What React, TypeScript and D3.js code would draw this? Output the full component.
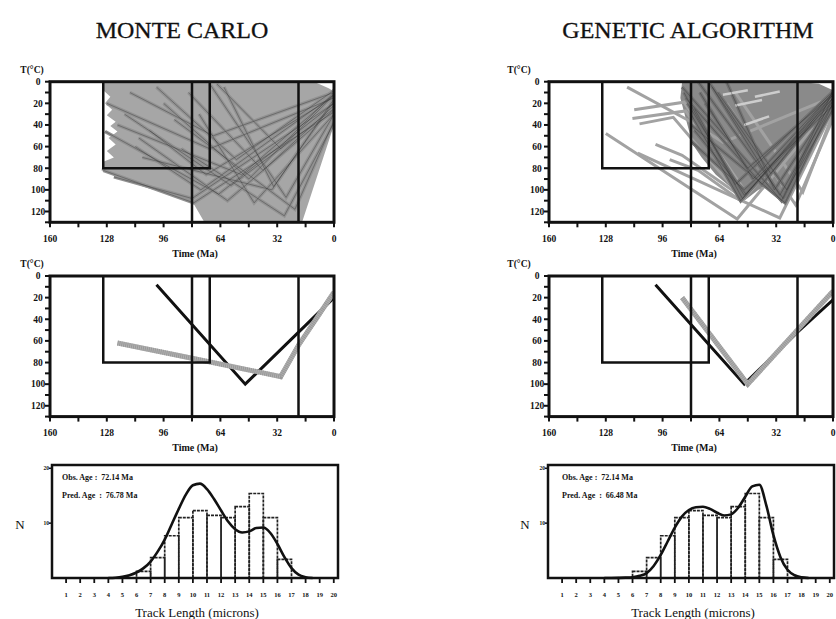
// Thermal history inversion figure: Monte Carlo vs genetic algorithm
// t-T path clouds, best-fit paths and track length histograms, drawn with d3 scales

import React from 'react';
import * as d3 from 'd3';

type Pt = [number, number]; // [time Ma, temperature °C]

const TIME_LABELS = [160, 128, 96, 64, 32, 0];
const TEMP_LABELS = [0, 20, 40, 60, 80, 100, 120];
const LENGTH_LABELS = [1, 2, 3, 4, 5, 6, 7, 8, 9, 10, 11, 12, 13, 14, 15, 16, 17, 18, 19, 20];
const COUNT_LABELS = [10, 20];

// constraint box and present-day window
const CONSTRAINT_BOX: Pt[] = [[130, 0], [130, 80], [70, 80], [70, 0]];
const WINDOW_TIMES = [80, 20];

// Monte Carlo: outline of the accepted path cloud
const MC_CLOUD: Pt[] = [
  [130, 0], [20, 0], [10, 1], [3, 6], [0, 9], [0, 40], [18, 130], [73, 130], [79, 113],
  [109, 94], [131, 82], [130, 74], [124, 70], [128, 64], [123, 58], [127, 52], [122, 46],
  [126, 41], [123, 37], [128, 31], [125, 26], [129, 20], [126, 14], [130, 8],
];

const MC_PATHS: Pt[][] = [
  [[129, 46], [65, 104], [0, 20]],
  [[104, 45], [72, 86], [0, 14]],
  [[118, 30], [58, 96], [0, 25]],
  [[70, 2], [27, 107], [0, 30]],
  [[62, 5], [34, 97], [0, 18]],
  [[112, 60], [75, 100], [0, 12]],
  [[96, 20], [48, 90], [0, 10]],
  [[82, 10], [40, 82], [0, 22]],
  [[90, 35], [22, 118], [0, 36]],
  [[130, 82], [79, 112], [0, 28]],
  [[124, 88], [80, 108], [0, 20]],
  [[66, 2], [30, 62], [0, 12]],
  [[100, 5], [55, 72], [0, 8]],
  [[76, 30], [45, 112], [0, 30]],
  [[110, 52], [60, 110], [0, 26]],
  [[86, 62], [28, 124], [0, 38]],
  [[128, 20], [70, 62], [0, 15]],
  [[115, 10], [68, 50], [0, 10]],
  [[108, 70], [35, 100], [0, 16]],
  [[122, 40], [52, 86], [0, 12]],
];

// Genetic algorithm: dense core of the final population
const GA_CLOUD: Pt[] = [
  [85, 0], [20, 0], [8, 2], [0, 8], [0, 24], [10, 58], [20, 95], [28, 110], [36, 97],
  [42, 100], [50, 110], [56, 100], [66, 86], [74, 70], [79, 58], [82, 40], [86, 15],
];

const GA_PATHS: Pt[][] = [
  [[84, 10], [51, 108], [0, 12]],
  [[82, 20], [50, 105], [0, 15]],
  [[80, 30], [52, 110], [0, 10]],
  [[78, 45], [49, 104], [0, 18]],
  [[85, 5], [29, 110], [0, 8]],
  [[76, 0], [28, 108], [0, 14]],
  [[70, 0], [30, 105], [0, 20]],
  [[80, 55], [50, 100], [0, 22]],
  [[83, 15], [40, 95], [0, 12]],
  [[75, 10], [45, 90], [0, 10]],
  [[68, 5], [35, 85], [0, 15]],
  [[60, 0], [33, 100], [0, 18]],
  [[80, 40], [27, 112], [0, 20]],
  [[78, 25], [55, 95], [0, 9]],
  [[65, 10], [26, 100], [0, 25]],
  [[72, 20], [48, 80], [0, 12]],
];

// light gaps left between the core paths
const GA_GAPS: Pt[][] = [
  [[62, 12], [48, 8]],
  [[55, 22], [40, 17]],
  [[50, 40], [36, 32]],
  [[44, 14], [30, 9]],
];

// early generations scattered outside the core
const GA_STRAYS: Pt[][] = [
  [[116, 5], [80, 37], [62, 56], [0, 14]],
  [[112, 26], [84, 19], [50, 100], [0, 12]],
  [[113, 34], [83, 27], [51, 104], [0, 13]],
  [[109, 39], [90, 33], [52, 106], [0, 15]],
  [[128, 48], [54, 127], [0, 20]],
  [[110, 66], [30, 126], [0, 26]],
  [[92, 72], [76, 82], [52, 110], [0, 18]],
  [[100, 58], [85, 68], [50, 108], [0, 11]],
  [[60, 20], [21, 114], [0, 34]],
  [[55, 10], [17, 102], [0, 30]],
];

// best-fit (solid) and predicted (stippled) paths
const MC_BEST: Pt[] = [[100, 8], [50, 100], [0, 20]];
const MC_PRED: Pt[] = [[122, 62], [80, 76], [30, 93], [20, 64], [0, 15]];
const GA_BEST: Pt[] = [[100, 8], [50, 100], [20, 52], [0, 22]];
const GA_PRED: Pt[] = [[85, 20], [48, 100], [0, 14]];

// track length histogram (same observed sample for both)
const BIN_LEFT = [6, 7, 8, 9, 10, 11, 12, 13, 14, 15, 16];
const OBS_N = [1.2, 3.7, 7.7, 11.0, 12.3, 11.4, 11.0, 13.0, 15.4, 11.0, 3.4];

const CURVE_X = [4, 4.5, 5, 5.5, 6, 6.5, 7, 7.5, 8, 8.5, 9, 9.5, 10, 10.5, 11, 11.5, 12, 12.5,
  13, 13.5, 14, 14.5, 15, 15.5, 16, 16.5, 17, 17.5, 18, 18.5];
const MC_CURVE_N = [0, 0.05, 0.2, 0.5, 1.0, 1.8, 3.0, 4.8, 7.0, 9.8, 12.6, 15.2, 16.9, 17.2, 16.2,
  14.4, 12.3, 10.3, 8.9, 8.3, 8.5, 9.1, 9.2, 8.2, 6.2, 3.8, 1.8, 0.6, 0.15, 0];
const GA_CURVE_N = [0, 0, 0.02, 0.06, 0.15, 0.4, 0.9, 2.2, 4.2, 6.7, 9.2, 11.2, 12.4, 12.9, 13.0,
  12.6, 11.9, 11.4, 11.6, 12.8, 14.8, 16.7, 17.0, 13.2, 7.8, 3.8, 1.5, 0.5, 0.12, 0];

const FONT = '"Liberation Serif", "Times New Roman", serif';

function TTPanel({ left, top, cloud, dense, paths, gaps, strays, best, pred, tLabelDx }: any) {
  const w = 284;
  const h = 140.6;
  const x = d3.scaleLinear().domain([160, 0]).range([left, left + w]);
  const y = d3.scaleLinear().domain([0, 130]).range([top, top + h]);
  const line = d3.line<Pt>().x(d => x(d[0])).y(d => y(d[1]));
  const clip = `clip-${left}-${Math.round(top)}`;
  const bottom = y(130);

  return (
    <g>
      <defs>
        <clipPath id={clip}>
          <rect x={left} y={top} width={w} height={h} />
        </clipPath>
      </defs>
      <g clipPath={`url(#${clip})`}>
        {cloud && <path d={line(cloud) + 'Z'} fill={dense ? '#8a8a8a' : '#a6a6a6'} />}
        {(strays || []).map((p: Pt[], i: number) => (
          <path key={'s' + i} d={line(p) || ''} fill="none" stroke="#a2a2a2" strokeWidth={3} />
        ))}
        {(paths || []).map((p: Pt[], i: number) => (
          <path key={'p' + i} d={line(p) || ''} fill="none"
            stroke={dense ? '#747474' : '#929292'} strokeWidth={3.5} />
        ))}
        {(gaps || []).map((p: Pt[], i: number) => (
          <path key={'g' + i} d={line(p) || ''} fill="none" stroke="#cdcdcd" strokeWidth={2.5} />
        ))}
        {(paths || []).map((p: Pt[], i: number) => (
          <path key={'d' + i} d={line(p) || ''} fill="none" stroke="#333" strokeOpacity={0.4} strokeWidth={1} />
        ))}
        {best && <path d={line(best) || ''} fill="none" stroke="#111" strokeWidth={3} />}
        {pred && <path d={line(pred) || ''} fill="none" stroke="#b0b0b0" strokeWidth={5} />}
        {pred && <path d={line(pred) || ''} fill="none" stroke="#888" strokeWidth={5} strokeDasharray="1 1" strokeOpacity={0.6} />}
        <path d={line(CONSTRAINT_BOX) || ''} fill="none" stroke="#111" strokeWidth={2.5} />
        {WINDOW_TIMES.map(t => (
          <line key={t} x1={x(t)} x2={x(t)} y1={y(0)} y2={bottom} stroke="#111" strokeWidth={2.5} />
        ))}
      </g>
      <rect x={left} y={top} width={w} height={h} fill="none" stroke="#111" strokeWidth={3} />

      {d3.range(0, 131, 10).map(v => (
        <line key={'yt' + v} x1={left - 5} x2={left} y1={y(v)} y2={y(v)} stroke="#111" strokeWidth={2} />
      ))}
      {TEMP_LABELS.map(v => (
        <text key={'yl' + v} x={left - 12} y={y(v)} dy="0.35em" textAnchor="middle"
          fontSize={9.5} fontWeight="bold">{v}</text>
      ))}
      {d3.range(0, 161, 16).map(v => (
        <line key={'xt' + v} x1={x(v)} x2={x(v)} y1={bottom} y2={bottom + 5} stroke="#111" strokeWidth={2} />
      ))}
      {TIME_LABELS.map(v => (
        <text key={'xl' + v} x={x(v)} y={bottom + 16} dy="0.35em" textAnchor="middle"
          fontSize={9.5} fontWeight="bold">{v}</text>
      ))}
      <text x={left + w / 2 + 3} y={bottom + 31} dy="0.35em" textAnchor="middle" fontSize={10} fontWeight="bold">
        Time (Ma)
      </text>
      <text x={left + tLabelDx} y={top - 12} dy="0.35em" textAnchor="middle" fontSize={9.5} fontWeight="bold">
        T(°C)
      </text>
    </g>
  );
}

function Histogram({ left, curve, predAge, textDx, nDx }: any) {
  const x = d3.scaleLinear().domain([0, 20.3]).range([left, left + 286]);
  const y = d3.scaleLinear().domain([0, 20.6]).range([578, 465]);
  const line = d3.line<number>()
    .x((_, i) => x(CURVE_X[i]))
    .y(d => y(d))
    .curve(d3.curveMonotoneX);

  return (
    <g>
      {BIN_LEFT.map((b, i) => (
        <rect key={b} x={x(b)} y={y(OBS_N[i])} width={x(b + 1) - x(b)} height={y(0) - y(OBS_N[i])}
          fill="none" stroke="#222" strokeWidth={1.7} strokeDasharray="3 1" />
      ))}
      <path d={line(curve) || ''} fill="none" stroke="#111" strokeWidth={2.6} />
      <rect x={left} y={465} width={286} height={113} fill="none" stroke="#111" strokeWidth={2.5} />

      {COUNT_LABELS.map(v => (
        <g key={v}>
          <line x1={left - 3} x2={left} y1={y(v)} y2={y(v)} stroke="#111" strokeWidth={1.5} />
          <text x={left - 3} y={y(v)} dy="0.35em" textAnchor="end" fontSize={5.5} fontWeight="bold">{v}</text>
        </g>
      ))}
      {LENGTH_LABELS.map(v => (
        <g key={v}>
          <line x1={x(v)} x2={x(v)} y1={578} y2={583} stroke="#111" strokeWidth={1.8} />
          <text x={x(v)} y={595} dy="0.35em" textAnchor="middle" fontSize={6.5} fontWeight="bold">{v}</text>
        </g>
      ))}
      <text x={left + nDx} y={524} dy="0.35em" textAnchor="middle" fontSize={13}>N</text>
      <text x={left + textDx} y={477} dy="0.35em" fontSize={8} fontWeight="bold" style={{ whiteSpace: 'pre' }}>
        {'Obs. Age :  72.14 Ma'}
      </text>
      <text x={left + textDx} y={495} dy="0.35em" fontSize={8} fontWeight="bold" style={{ whiteSpace: 'pre' }}>
        {`Pred. Age  :  ${predAge} Ma`}
      </text>
      <text x={left + 145} y={612} dy="0.35em" textAnchor="middle" fontSize={13}>
        Track Length (microns)
      </text>
    </g>
  );
}

export default function App() {
  return (
    <svg width={836} height={619} style={{ position: 'absolute', left: 0, top: 0, background: '#fff' }}
      fontFamily={FONT} fill="#111">
      <rect width={836} height={619} fill="#fff" />

      <text x={182} y={38} textAnchor="middle" fontSize={24} stroke="#111" strokeWidth={0.3}>MONTE CARLO</text>
      <text x={688} y={38} textAnchor="middle" fontSize={24} stroke="#111" strokeWidth={0.3}>GENETIC ALGORITHM</text>

      <TTPanel left={50} top={81.7} cloud={MC_CLOUD} paths={MC_PATHS} tLabelDx={-18} />
      <TTPanel left={549} top={81.7} cloud={GA_CLOUD} dense paths={GA_PATHS} gaps={GA_GAPS}
        strays={GA_STRAYS} tLabelDx={-30} />

      <TTPanel left={50} top={276} best={MC_BEST} pred={MC_PRED} tLabelDx={-18} />
      <TTPanel left={549} top={276} best={GA_BEST} pred={GA_PRED} tLabelDx={-30} />

      <Histogram left={52} curve={MC_CURVE_N} predAge="76.78" textDx={10} nDx={-32} />
      <Histogram left={548} curve={GA_CURVE_N} predAge="66.48" textDx={14} nDx={-23} />
    </svg>
  );
}
